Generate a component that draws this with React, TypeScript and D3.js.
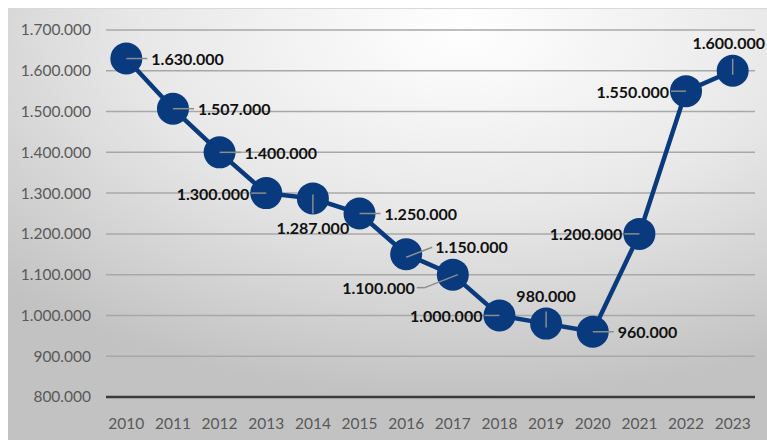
import React from "react";
import * as d3 from "d3";

const years = ["2010","2011","2012","2013","2014","2015","2016","2017","2018","2019","2020","2021","2022","2023"];
const values = [1630000,1507000,1400000,1300000,1287000,1250000,1150000,1100000,1000000,980000,960000,1200000,1550000,1600000];
const yTicks = [800000,900000,1000000,1100000,1200000,1300000,1400000,1500000,1600000,1700000];
// label placement: side relative to point
const labelPos = ["right","right","right","left","below","right","upright","downleft","left","above","right","left","left","above"];

const fmt = (v: number) => d3.format(",")(v).replace(/,/g, ".");

export default function App() {
  const W = 767, H = 440;
  const x = d3.scaleBand<string>().domain(years).range([103, 756]);
  const y = d3.scaleLinear().domain([800000, 1700000]).range([397, 30]);
  const cx = (i: number) => (x(years[i]) as number) + x.bandwidth() / 2;
  const line = d3.line<number>().x((_, i) => cx(i)).y(d => y(d));
  const r = 16;
  const font = "Lato, 'Open Sans', sans-serif";

  const labels = values.map((v, i) => {
    const px = cx(i), py = y(v);
    const p = labelPos[i];
    let lx = px, ly = py, anchor = "start";
    let lead: [number, number, number, number] = [px, py, px, py];
    if (p === "right") { lx = px + 25; ly = py + 1; anchor = "start"; lead = [px, py, px + 21, py]; }
    else if (p === "left") { lx = px - 17; ly = py + 1; anchor = "end"; lead = [px, py, px - 15, py]; }
    else if (p === "below") { lx = px; ly = py + 30; anchor = "middle"; lead = [px, py - 4, px, py + 15]; }
    else if (p === "above") {
      lx = px; ly = py - 27; anchor = "middle"; lead = [px, py + 4, px, py - 12];
      if (px + 38 > W) { lx = W - 2; anchor = "end"; }
    }
    else if (p === "upright") { lx = px + 29; ly = py - 7; anchor = "start"; lead = [px, py + 3, px + 26, py - 7]; }
    else if (p === "downleft") { lx = px - 38; ly = py + 14; anchor = "end"; lead = [px + 5, py, px - 28, py + 13]; }
    return { v, lx, ly, anchor, lead, p, px, py };
  });

  return (
    <svg width={W} height={H} style={{ position: "absolute", left: 0, top: 0 }}>
      <defs>
        <radialGradient id="bg" cx="0.6" cy="0.05" r="0.85" fx="0.6" fy="0.05">
          <stop offset="0" stopColor="#ffffff" />
          <stop offset="0.5" stopColor="#e8e8e8" />
          <stop offset="1" stopColor="#c2c2c2" />
        </radialGradient>
      </defs>
      <rect x={0} y={0} width={W} height={H} fill="#ffffff" />
      <rect x={8} y={8} width={W - 8} height={H - 8} fill="url(#bg)" />
      <line x1={8} x2={W} y1={8.5} y2={8.5} stroke="#d9d9d9" strokeWidth={1} />
      {yTicks.map(t => (
        <g key={t}>
          <line x1={106} x2={755} y1={y(t)} y2={y(t)}
            stroke={t === 800000 ? "#3a3a3a" : "#a8a8a8"} strokeWidth={t === 800000 ? 2.5 : 1.5} />
          <text x={91} y={y(t)} dy="0.35em" textAnchor="end" fontFamily={font} fontSize={15.5} fill="#595959">{fmt(t)}</text>
        </g>
      ))}
      {years.map((yr, i) => (
        <text key={yr} x={cx(i)} y={424} dy="0.35em" textAnchor="middle" fontFamily={font} fontSize={15.5} fill="#595959">{yr}</text>
      ))}
      <path d={line(values) as string} fill="none" stroke="#0a3a7e" strokeWidth={4.5} />
      {values.map((v, i) => (
        <circle key={i} cx={cx(i)} cy={y(v)} r={r} fill="#0a3a7e" />
      ))}
      {labels.map((l, i) => (
        <g key={i}>
          <line x1={l.lead[0]} y1={l.lead[1]} x2={l.lead[2]} y2={l.lead[3]} stroke="#8c8c8c" strokeWidth={1.5} />
          {l.p === "downleft" && (
            <line x1={l.lead[2]} y1={l.lead[3]} x2={l.lead[2] - 8} y2={l.lead[3]} stroke="#8c8c8c" strokeWidth={1.5} />
          )}
          <text x={l.lx} y={l.ly} dy="0.35em" textAnchor={l.anchor as any} fontFamily={font} fontWeight={700} fontSize={16} fill="#111">{fmt(l.v)}</text>
        </g>
      ))}
    </svg>
  );
}
